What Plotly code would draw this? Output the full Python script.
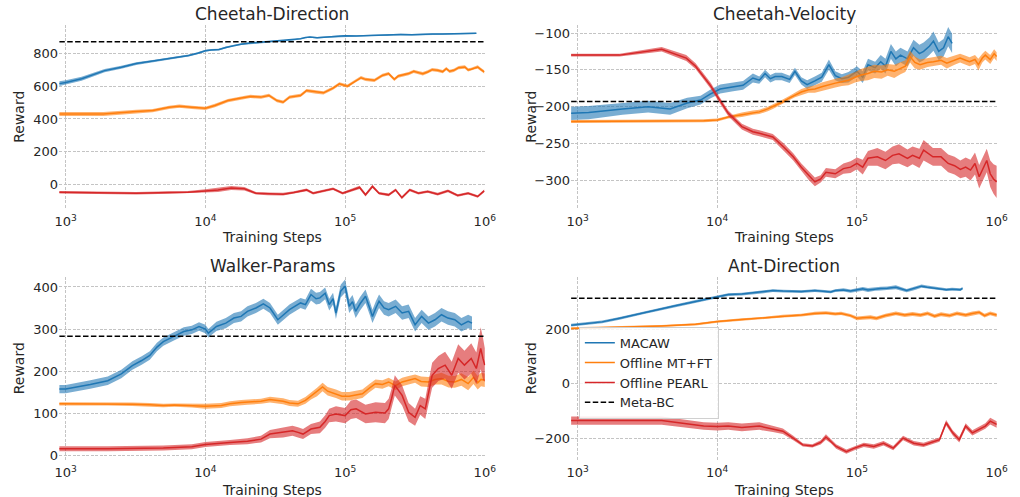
import plotly.graph_objects as go
from plotly.subplots import make_subplots

# ---------------- Cheetah-Direction ----------------
CD_MACAW_X = [900, 1000, 1300, 1900, 2500, 3200, 4200, 5500, 6500, 7600, 8800, 10000, 11000, 12500, 14000,
              16000, 18000, 21000, 24000, 28000, 32000, 37000, 42000, 48000, 52000, 56000, 63000, 70000, 80000,
              90000, 100000, 120000, 140000, 170000, 200000, 250000, 300000, 350000, 420000, 500000, 600000,
              700000, 800000, 870000]
CD_MACAW_Y = [615, 622, 645, 694, 715, 737, 752, 767, 777, 786, 800, 815, 820, 822, 835, 848, 855, 862, 866, 868,
              872, 876, 880, 888, 895, 898, 894, 897, 900, 903, 906, 905, 907, 910, 908, 914, 912, 915, 916, 917,
              918, 920, 920, 921]
CD_MACAW_W = [15, 14, 12, 10, 9, 8, 7, 6, 6, 6, 6, 6, 5, 5, 5, 5, 5, 5, 4, 4, 4, 4, 4, 4, 4, 4, 4, 4, 4, 4, 4,
              4, 4, 4, 4, 4, 4, 4, 4, 4, 4, 4, 4, 4]

CD_MTFT_X = [900, 1860, 3200, 4200, 5500, 6500, 8000, 10000, 11700, 14500, 18000, 21000, 25000, 28500, 32500,
             36000, 40000, 48000, 53000, 62000, 70000, 82000, 91000, 104000, 120000, 130000, 140000, 162000,
             185000, 205000, 225000, 240000, 285000, 310000, 335000, 360000, 390000, 420000, 460000, 500000,
             530000, 560000, 600000, 650000, 720000, 760000, 800000, 850000, 890000, 940000, 990000]
CD_MTFT_Y = [431, 431, 445, 451, 471, 478, 471, 465, 482, 512, 527, 537, 533, 543, 512, 502, 533, 543, 573, 563,
             559, 588, 614, 600, 635, 651, 641, 635, 665, 676, 641, 661, 676, 690, 682, 675, 686, 700, 696, 688,
             706, 690, 696, 712, 716, 698, 702, 712, 716, 700, 686]
CD_MTFT_W = [12, 12, 11, 10, 10, 10, 10, 10, 10, 10, 10, 10, 10, 10, 10, 10, 10, 10, 10, 10, 10, 10, 10, 10,
             10, 10, 10, 10, 10, 10, 10, 10, 10, 10, 10, 10, 10, 10, 10, 10, 10, 10, 10, 10, 10, 10, 10, 10, 10,
             10, 10]

CD_PEARL_X = [900, 3200, 5500, 7500, 10000, 12300, 15300, 19000, 23000, 28000, 36000, 43000, 53000, 59000, 70000,
              82000, 96000, 114000, 127000, 140000, 157000, 175000, 205000, 230000, 255000, 290000, 335000,
              390000, 460000, 545000, 640000, 760000, 890000, 990000]
CD_PEARL_Y = [-45, -51, -47, -45, -37, -31, -20, -24, -51, -55, -57, -47, -31, -51, -37, -24, -51, -31, -16, -61,
              -10, -51, -61, -31, -78, -31, -51, -41, -57, -37, -65, -51, -71, -37]
CD_PEARL_W = [8, 8, 8, 8, 10, 12, 12, 10, 8, 8, 8, 8, 8, 8, 8, 8, 8, 8, 10, 10, 10, 8, 8, 8, 8, 8, 8, 8, 8, 8,
              8, 8, 8, 8]

# ---------------- Cheetah-Velocity ----------------
CV_MACAW_X = [900, 1200, 2100, 3200, 4600, 6100, 7600, 8900, 10500, 13000, 15300, 18000, 20000, 22000, 24000,
              26000, 29000, 33000, 36000, 40000, 44000, 50000, 56000, 63000, 70000, 78000, 87000, 100000, 110000,
              120000, 135000, 148000, 160000, 175000, 190000, 205000, 230000, 254000, 280000, 300000, 330000,
              353000, 385000, 417000, 450000, 480000]
CV_MACAW_Y = [-209, -208, -203, -200, -203, -195, -191, -183, -176, -173, -171, -161, -164, -155, -162, -159,
              -159, -163, -152, -165, -170, -165, -160, -143, -158, -162, -160, -152, -160, -143, -147, -139,
              -145, -125, -135, -130, -135, -120, -128, -125, -118, -111, -125, -120, -105, -114]
CV_MACAW_W = [9, 9, 8, 8, 8, 7, 6, 6, 6, 6, 6, 6, 5, 5, 5, 5, 5, 5, 5, 5, 6, 6, 6, 7, 6, 6, 7, 7, 8, 8, 8, 9, 10,
              10, 10, 10, 10, 11, 12, 12, 12, 13, 12, 12, 13, 13]

CV_MTFT_X = [900, 2000, 4000, 6000, 8000, 10000, 12000, 15000, 18000, 20000, 23000, 25000, 29000, 33000, 36000,
             40000, 45000, 50000, 56000, 63000, 70000, 78000, 87000, 97000, 107000, 120000, 133000, 150000,
             166000, 185000, 205000, 222000, 240000, 260000, 283000, 320000, 353000, 400000, 440000, 500000,
             548000, 600000, 640000, 700000, 740000, 790000, 830000, 900000, 960000, 1000000]
CV_MTFT_Y = [-220, -220, -219, -219, -219, -218, -214, -211, -208, -207, -203, -200, -194, -188, -184, -180,
             -177, -176, -173, -170, -168, -166, -164, -160, -157, -155, -152, -153, -150, -152, -148, -145,
             -132, -140, -143, -140, -139, -137, -141, -137, -134, -137, -139, -136, -143, -134, -130, -136,
             -128, -132]
CV_MTFT_W = [2, 2, 2, 2, 2, 2, 2, 3, 3, 3, 3, 3, 3, 3, 3, 4, 4, 5, 6, 6, 6, 6, 7, 7, 8, 9, 9, 9, 8, 9, 8, 8, 8,
             8, 7, 6, 6, 6, 7, 6, 6, 6, 6, 6, 8, 6, 6, 6, 6, 6]

CV_PEARL_X = [900, 2000, 4000, 6000, 7000, 8000, 9000, 10000, 12000, 15000, 18000, 20000, 25000, 30000, 35000,
              40000, 45000, 50000, 55000, 60000, 70000, 80000, 90000, 100000, 110000, 120000, 140000, 160000,
              180000, 200000, 230000, 250000, 280000, 300000, 350000, 400000, 450000, 500000, 550000, 600000,
              650000, 700000, 750000, 800000, 850000, 900000, 950000, 1000000]
CV_PEARL_Y = [-130, -130, -122, -134, -145, -159, -172, -186, -209, -227, -234, -236, -241, -255, -268, -282,
              -293, -302, -298, -289, -291, -284, -282, -277, -282, -270, -268, -273, -266, -264, -270, -266,
              -270, -259, -268, -268, -277, -280, -285, -282, -286, -277, -295, -284, -273, -291, -298, -302]
CV_PEARL_W = [2, 2, 3, 4, 4, 4, 4, 4, 4, 4, 4, 4, 4, 5, 5, 5, 6, 6, 5, 6, 6, 7, 8, 8, 10, 10, 12, 12, 12, 13,
              12, 12, 13, 14, 12, 12, 12, 12, 12, 13, 14, 15, 16, 16, 16, 18, 20, 22]

# ---------------- Walker-Params ----------------
WP_MACAW_X = [900, 1000, 1500, 2000, 2500, 3000, 3500, 4000, 4500, 5000, 6000, 7000, 8000, 9000, 10000, 10500,
              12000, 14000, 16000, 18000, 20000, 23000, 26000, 29000, 33000, 40000, 48000, 52000, 57000, 62000,
              66000, 72000, 77000, 82000, 86000, 93000, 100000, 107000, 113000, 119000, 128000, 140000, 150000,
              157000, 166000, 175000, 190000, 205000, 230000, 256000, 285000, 317000, 353000, 395000, 440000,
              490000, 545000, 610000, 680000, 760000, 810000]
WP_MACAW_Y = [157, 157, 168, 177, 193, 213, 225, 237, 257, 270, 283, 294, 298, 306, 300, 290, 306, 314, 326, 330,
              342, 350, 360, 350, 322, 346, 362, 358, 382, 372, 374, 385, 358, 372, 338, 390, 402, 354, 365, 342,
              360, 378, 350, 330, 350, 366, 350, 346, 354, 338, 342, 310, 330, 314, 322, 334, 326, 322, 310, 318,
              314]
WP_MACAW_W = [10, 10, 10, 10, 10, 10, 10, 10, 10, 10, 10, 10, 10, 10, 10, 10, 11, 12, 12, 12, 12, 12, 12, 12, 12,
              12, 12, 12, 14, 14, 14, 14, 14, 14, 14, 15, 16, 16, 16, 16, 16, 16, 16, 16, 16, 16, 16, 16, 16, 16,
              16, 16, 16, 16, 16, 16, 16, 16, 16, 16, 16]

WP_MTFT_X = [900, 2000, 3000, 4000, 5000, 6000, 8000, 10000, 13000, 15000, 18000, 20000, 25000, 29000, 36000,
             40000, 46000, 52000, 57000, 63000, 69000, 75000, 86000, 95000, 107000, 120000, 133000, 150000,
             165000, 185000, 205000, 230000, 256000, 285000, 317000, 350000, 395000, 440000, 490000, 550000,
             610000, 680000, 760000, 830000, 890000, 940000, 1000000]
WP_MTFT_Y = [122, 122, 121, 120, 118, 119, 118, 116, 118, 122, 125, 126, 128, 132, 128, 124, 122, 130, 140, 150,
             162, 152, 146, 140, 140, 143, 146, 160, 170, 168, 174, 165, 174, 178, 182, 175, 174, 180, 182, 175,
             174, 180, 170, 185, 172, 180, 178]
WP_MTFT_W = [4, 4, 4, 4, 4, 4, 5, 6, 6, 6, 6, 6, 6, 7, 7, 7, 7, 8, 8, 10, 10, 10, 10, 10, 10, 10, 10, 10, 10, 10,
             10, 10, 10, 10, 10, 12, 12, 12, 14, 14, 14, 15, 16, 16, 16, 16, 16]

WP_PEARL_X = [900, 2000, 5000, 7000, 8000, 10000, 12000, 15000, 20000, 25000, 29000, 36000, 42000, 46000, 50000,
              57000, 66000, 72000, 77000, 86000, 100000, 110000, 120000, 140000, 165000, 193000, 205000, 215000,
              227000, 256000, 285000, 317000, 345000, 375000, 420000, 465000, 520000, 580000, 645000, 715000,
              800000, 870000, 935000, 970000, 1000000]
WP_PEARL_Y = [15, 15, 17, 19, 20, 25, 28, 30, 33, 38, 50, 54, 58, 54, 50, 62, 66, 80, 94, 98, 94, 108, 110, 98,
              102, 100, 110, 134, 166, 142, 102, 90, 118, 110, 190, 206, 214, 190, 230, 214, 230, 206, 254, 230,
              214]
WP_PEARL_W = [6, 6, 6, 6, 6, 6, 6, 6, 7, 8, 10, 12, 12, 12, 12, 12, 14, 15, 16, 18, 18, 22, 22, 22, 24, 24, 24,
              24, 24, 24, 22, 20, 22, 24, 30, 30, 32, 32, 34, 34, 36, 38, 50, 50, 40]

# ---------------- Ant-Direction ----------------
AD_MACAW_X = [900, 1500, 2000, 3000, 4000, 5000, 7000, 10000, 12000, 15000, 20000, 25000, 29500, 35000, 40000,
              50000, 60000, 65000, 70000, 80000, 90000, 100000, 110000, 120000, 135000, 148000, 165000, 190000,
              227000, 260000, 290000, 318000, 350000, 400000, 436000, 480000, 550000, 570000]
AD_MACAW_Y = [215, 227, 240, 261, 277, 286, 302, 319, 327, 329, 335, 342, 340, 338, 338, 342, 338, 337, 342, 344,
              340, 345, 348, 344, 348, 349, 350, 354, 342, 350, 358, 354, 352, 348, 345, 347, 345, 350]
AD_MACAW_W = [5, 5, 5, 5, 5, 5, 5, 5, 5, 5, 5, 5, 5, 5, 5, 5, 5, 5, 5, 6, 6, 7, 7, 7, 7, 7, 7, 7, 6, 6, 6, 6, 6,
              5, 5, 5, 5, 5]

AD_MTFT_X = [900, 2000, 4000, 7000, 10000, 15000, 20000, 29500, 40000, 50000, 60000, 70000, 77000, 90000, 100000,
             110000, 125000, 138000, 160000, 190000, 220000, 250000, 285000, 320000, 360000, 400000, 460000,
             520000, 600000, 670000, 750000, 820000, 900000, 1000000]
AD_MTFT_Y = [203, 207, 212, 218, 228, 236, 240, 248, 252, 258, 260, 256, 258, 250, 240, 242, 244, 240, 250, 258,
             252, 256, 252, 258, 248, 255, 250, 258, 252, 258, 262, 250, 258, 252]
AD_MTFT_W = [4, 4, 4, 4, 4, 4, 4, 5, 5, 6, 6, 6, 6, 6, 7, 7, 7, 7, 7, 7, 7, 7, 7, 7, 7, 7, 7, 7, 7, 7, 7, 7, 7,
             7]

AD_PEARL_X = [900, 2000, 4000, 8000, 10000, 12000, 15000, 20000, 25000, 29500, 35000, 41000, 48000, 55000, 60000,
              65000, 71000, 84000, 96000, 112000, 132000, 155000, 182000, 214000, 255000, 300000, 353000, 390000,
              435000, 485000, 540000, 600000, 670000, 745000, 830000, 900000, 1000000]
AD_PEARL_Y = [-135, -135, -135, -155, -157, -155, -160, -155, -165, -174, -199, -224, -228, -215, -195, -210,
              -230, -249, -236, -224, -230, -218, -236, -199, -218, -224, -212, -205, -143, -180, -205, -155,
              -180, -168, -155, -137, -149]
AD_PEARL_W = [15, 15, 15, 14, 14, 14, 14, 14, 12, 10, 8, 6, 6, 8, 10, 8, 8, 8, 8, 8, 8, 8, 8, 8, 8, 8, 8, 8, 10,
              10, 10, 10, 10, 10, 10, 12, 12]

# ---------------- Meta-BC baselines ----------------
META_BC = [870, -193, 283, 314]
META_BC_X = [900, 1000000]

TITLES = ["Cheetah-Direction", "Cheetah-Velocity", "Walker-Params", "Ant-Direction"]
SERIES_NAMES = ["MACAW", "Offline MT+FT", "Offline PEARL", "Meta-BC"]
Y_TICKS = [[0, 200, 400, 600, 800], [-300, -250, -200, -150, -100], [0, 100, 200, 300, 400], [-200, 0, 200]]
Y_RANGES = [[-148, 972], [-339, -89], [-12, 424], [-280, 392]]
X_TICKS = [1e3, 1e4, 1e5, 1e6]
X_TICKTEXT = ["10<sup>3</sup>", "10<sup>4</sup>", "10<sup>5</sup>", "10<sup>6</sup>"]

COLORS = ["#1f77b4", "#ff7f0e", "#d62728"]
TEXT = "#262626"
FONT = "DejaVu Sans"

PANELS = [
    [(CD_MACAW_X, CD_MACAW_Y, CD_MACAW_W), (CD_MTFT_X, CD_MTFT_Y, CD_MTFT_W), (CD_PEARL_X, CD_PEARL_Y, CD_PEARL_W)],
    [(CV_MACAW_X, CV_MACAW_Y, CV_MACAW_W), (CV_MTFT_X, CV_MTFT_Y, CV_MTFT_W), (CV_PEARL_X, CV_PEARL_Y, CV_PEARL_W)],
    [(WP_MACAW_X, WP_MACAW_Y, WP_MACAW_W), (WP_MTFT_X, WP_MTFT_Y, WP_MTFT_W), (WP_PEARL_X, WP_PEARL_Y, WP_PEARL_W)],
    [(AD_MACAW_X, AD_MACAW_Y, AD_MACAW_W), (AD_MTFT_X, AD_MTFT_Y, AD_MTFT_W), (AD_PEARL_X, AD_PEARL_Y, AD_PEARL_W)],
]

W, H = 1020, 497
# pixel geometry of each axes: (left, right, top, bottom)
BOXES = [(55, 488, 25, 210), (575, 1008, 25, 210), (55, 488, 278, 462), (575, 1008, 278, 462)]


def rgba(hexcol, a):
    h = hexcol.lstrip("#")
    r, g, b = int(h[0:2], 16), int(h[2:4], 16), int(h[4:6], 16)
    return f"rgba({r},{g},{b},{a})"


fig = make_subplots(rows=2, cols=2)
rc = [(1, 1), (1, 2), (2, 1), (2, 2)]

for p, series in enumerate(PANELS):
    row, col = rc[p]
    legend_panel = (p == 3)
    for s, (xs, ys, ws) in enumerate(series):
        upper = [y + w for y, w in zip(ys, ws)]
        lower = [y - w for y, w in zip(ys, ws)]
        fig.add_trace(go.Scatter(x=list(xs) + list(xs)[::-1], y=upper + lower[::-1], fill="toself",
                                 fillcolor=rgba(COLORS[s], 0.6), line=dict(width=0), mode="lines",
                                 hoverinfo="skip", showlegend=False), row=row, col=col)
        fig.add_trace(go.Scatter(x=xs, y=ys, mode="lines", line=dict(color=COLORS[s], width=1.5),
                                 name=SERIES_NAMES[s], showlegend=legend_panel), row=row, col=col)
    fig.add_trace(go.Scatter(x=META_BC_X, y=[META_BC[p], META_BC[p]], mode="lines",
                             line=dict(color="black", width=1.5, dash="5.5px,2.4px"),
                             name=SERIES_NAMES[3], showlegend=legend_panel), row=row, col=col)

annotations = []
for p in range(4):
    l, r, t, b = BOXES[p]
    ax = "" if p == 0 else str(p + 1)
    fig.layout["xaxis" + ax].update(
        domain=[l / W, r / W], type="log", range=[2.953, 6.004], tickvals=X_TICKS, ticktext=X_TICKTEXT,
        showgrid=True, gridcolor="#c4c4c4", gridwidth=0.8, griddash="3px,1.5px", zeroline=False,
        showline=False, ticks="", ticklabelstandoff=3, tickfont=dict(family=FONT, size=13, color=TEXT))
    fig.layout["yaxis" + ax].update(
        domain=[1 - b / H, 1 - t / H], range=Y_RANGES[p], tickvals=Y_TICKS[p],
        showgrid=True, gridcolor="#c4c4c4", gridwidth=0.8, griddash="3px,1.5px", zeroline=False,
        showline=False, ticks="", tickfont=dict(family=FONT, size=13, color=TEXT))
    cx = (l + r) / 2 / W
    xt_y = b + 28 if p < 2 else b + 30
    annotations.append(dict(text=TITLES[p], x=cx, y=1 - (t - 11) / H, xref="paper", yref="paper",
                            xanchor="center", yanchor="middle", showarrow=False,
                            font=dict(family=FONT, size=17, color=TEXT)))
    annotations.append(dict(text="Training Steps", x=cx, y=1 - xt_y / H, xref="paper", yref="paper",
                            xanchor="center", yanchor="middle", showarrow=False,
                            font=dict(family=FONT, size=14, color=TEXT)))
    annotations.append(dict(text="Reward", x=(l - 41) / W, y=1 - (t + b) / 2 / H, xref="paper", yref="paper",
                            xanchor="center", yanchor="middle", showarrow=False, textangle=-90,
                            font=dict(family=FONT, size=14, color=TEXT)))

fig.update_layout(
    width=W, height=H, margin=dict(l=0, r=0, t=0, b=0),
    paper_bgcolor="white", plot_bgcolor="white",
    font=dict(family=FONT, color=TEXT),
    annotations=annotations,
    showlegend=True,
    legend=dict(x=583 / W, y=1 - 328 / H, xanchor="left", yanchor="top",
                bgcolor="rgba(255,255,255,0.85)", bordercolor="#d0d0d0", borderwidth=1,
                font=dict(family=FONT, size=13, color=TEXT), tracegroupgap=0, itemwidth=30),
    hovermode=False,
)

fig.write_html("out.html", config={"responsive": False, "displayModeBar": False},
               post_script="document.body.style.margin='0';document.body.style.overflow='hidden';")
